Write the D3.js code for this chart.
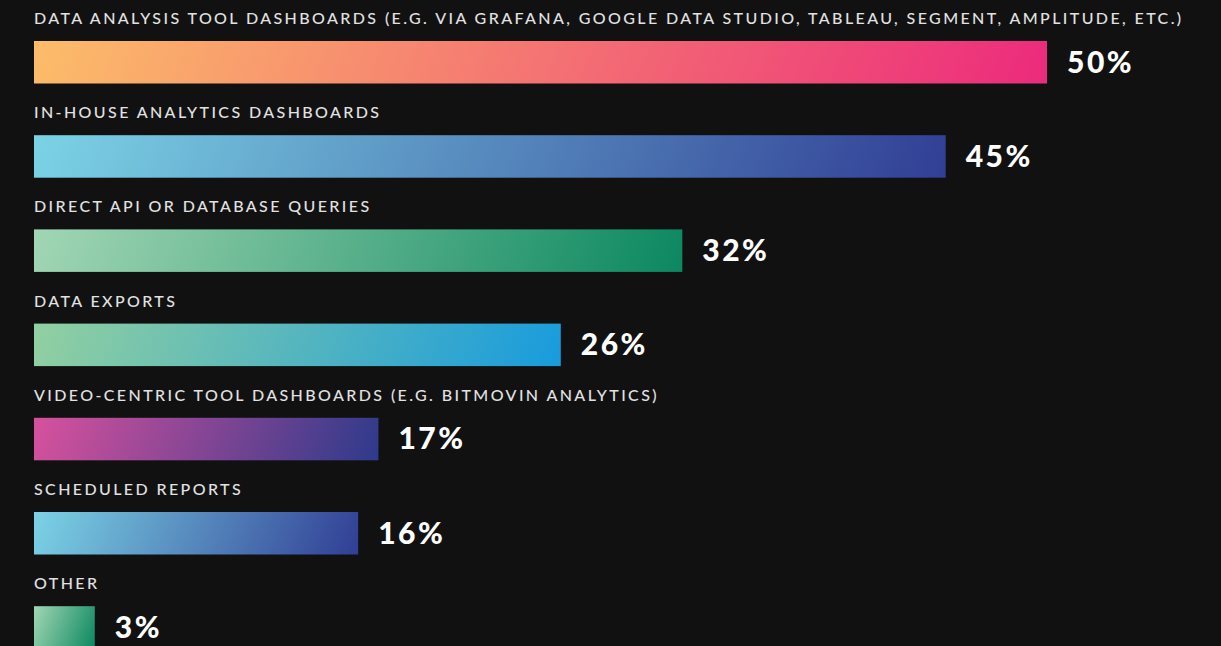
<!DOCTYPE html>
<html>
<head>
<meta charset="utf-8">
<script src="https://cdn.jsdelivr.net/npm/d3@7"></script>
<style>
  html, body { margin: 0; padding: 0; background: #111111; }
  svg { display: block; }
</style>
</head>
<body>
<svg id="chart" width="1221" height="646"></svg>
<script>
// Survey answers: how teams view their video analytics data
const categories = [
  "DATA ANALYSIS TOOL DASHBOARDS (E.G. VIA GRAFANA, GOOGLE DATA STUDIO, TABLEAU, SEGMENT, AMPLITUDE, ETC.)",
  "IN-HOUSE ANALYTICS DASHBOARDS",
  "DIRECT API OR DATABASE QUERIES",
  "DATA EXPORTS",
  "VIDEO-CENTRIC TOOL DASHBOARDS (E.G. BITMOVIN ANALYTICS)",
  "SCHEDULED REPORTS",
  "OTHER"
];
const values = [50, 45, 32, 26, 17, 16, 3];
const gradientStart = ["#fcbd69", "#7bd3e5", "#a2d6b4", "#92d0a0", "#d7519d", "#7bd3e5", "#a2d6b4"];
const gradientEnd   = ["#ec2a7c", "#313e95", "#0b8860", "#189bdd", "#2e3a8b", "#313e95", "#0b8860"];

const svg = d3.select("#chart");
const left = 34;
const barY = 41;
const barH = 42.5;
const angle = 112 * Math.PI / 180; // CSS-style gradient angle

const x = d3.scaleLinear().domain([0, 50]).range([0, 1013]);
const row = d3.scaleBand().domain(d3.range(categories.length)).range([0, 94.2 * categories.length]).paddingInner(0);

// One angled gradient per bar, sized to the bar's own box
const defs = svg.append("defs");
categories.forEach((c, i) => {
  const w = x(values[i]);
  const dx = Math.sin(angle), dy = -Math.cos(angle);
  const half = (Math.abs(w * dx) + Math.abs(barH * dy)) / 2;
  const cx = w / 2, cy = barY + barH / 2;
  const g = defs.append("linearGradient")
    .attr("id", "grad" + i)
    .attr("gradientUnits", "userSpaceOnUse")
    .attr("x1", cx - dx * half).attr("y1", cy - dy * half)
    .attr("x2", cx + dx * half).attr("y2", cy + dy * half);
  g.append("stop").attr("offset", "0%").attr("stop-color", gradientStart[i]);
  g.append("stop").attr("offset", "100%").attr("stop-color", gradientEnd[i]);
});

const rows = svg.selectAll("g.row")
  .data(categories)
  .join("g")
  .attr("class", "row")
  .attr("transform", (d, i) => `translate(${left},${row(i)})`);

rows.append("text")
  .attr("x", 0)
  .attr("y", 24)
  .attr("fill", "#e2e2e2")
  .style("font-family", "Lato, 'Noto Sans', sans-serif")
  .style("font-size", "16px")
  .style("font-weight", 500)
  .style("letter-spacing", "2.4px")
  .text(d => d);

rows.append("rect")
  .attr("x", 0)
  .attr("y", barY)
  .attr("height", barH)
  .attr("width", (d, i) => x(values[i]))
  .attr("fill", (d, i) => `url(#grad${i})`);

rows.append("text")
  .attr("x", (d, i) => x(values[i]) + 20)
  .attr("y", 72.5)
  .attr("fill", "#ffffff")
  .style("font-family", "Lato, 'Open Sans', sans-serif")
  .style("font-size", "30px")
  .style("font-weight", 900)
  .style("letter-spacing", "2.5px")
  .text((d, i) => values[i] + "%");
</script>
</body>
</html>
